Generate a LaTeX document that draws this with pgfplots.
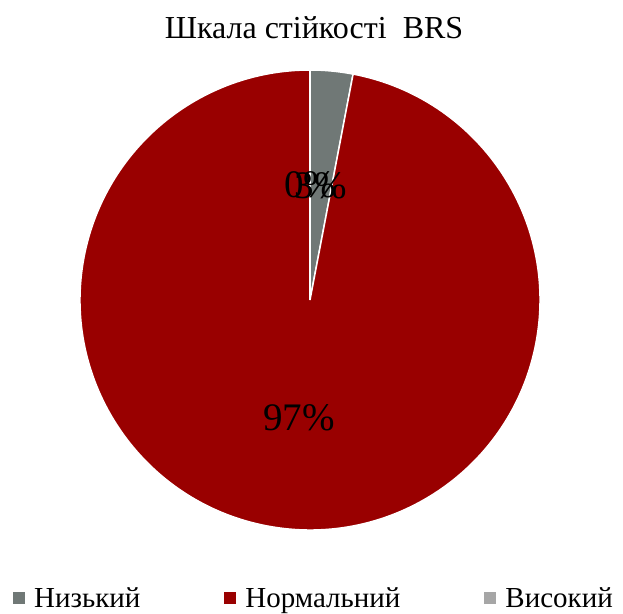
\documentclass[border=0pt]{standalone}
\usepackage{fontspec}
\setmainfont{Liberation Serif}
\usepackage{pgfplots}
\pgfplotsset{compat=1.18}
\usetikzlibrary{calc}
\definecolor{lowc}{RGB}{112,120,118}
\definecolor{normc}{RGB}{153,0,0}
\definecolor{highc}{RGB}{166,166,166}
% shares (percent)
\def\vLow{3}
\def\vNorm{97}
\def\vHigh{0}
\begin{document}
\begin{tikzpicture}
\useasboundingbox (0,0) rectangle (623bp,614bp);
\pgfmathsetmacro{\aA}{90}
\pgfmathsetmacro{\aB}{90-3.6*\vLow}
\pgfmathsetmacro{\aC}{\aB-3.6*\vNorm}
\pgfmathsetmacro{\aD}{\aC-3.6*\vHigh}
\pgfmathsetmacro{\mA}{(\aA+\aB)/2}
\pgfmathsetmacro{\mB}{(\aB+\aC)/2}
\pgfmathsetmacro{\mC}{(\aC+\aD)/2}
\begin{axis}[
  at={(0,0)}, anchor=south west,
  width=623bp, height=614bp, scale only axis,
  xmin=0, xmax=623, ymin=0, ymax=614,
  axis lines=none, clip=false,
  legend image code/.code={\fill[#1, draw=none] (0bp,-6bp) rectangle (12bp,6bp);},
  legend style={at={(axis cs:13,3)}, anchor=south west, draw=none, fill=none,
    inner sep=0pt, legend columns=3, font=\fontsize{29bp}{34bp}\selectfont,
    /tikz/every odd column/.append style={column sep=7bp},
    /tikz/every even column/.append style={column sep=82bp}},
  legend cell align=left,
]
\addlegendimage{fill=lowc, draw=none}
\addlegendentry{Низький}
\addlegendimage{fill=normc, draw=none}
\addlegendentry{Нормальний}
\addlegendimage{fill=highc, draw=none}
\addlegendentry{Високий}
\filldraw[fill=lowc, draw=white, line width=1.5bp] (axis cs:310,314) -- ++(\aA:230bp) arc[start angle=\aA, end angle=\aB, radius=230bp] -- cycle;
\filldraw[fill=normc, draw=white, line width=1.5bp] (axis cs:310,314) -- ++(\aB:230bp) arc[start angle=\aB, end angle=\aC, radius=230bp] -- cycle;
\draw[white, line width=1.5bp] (axis cs:310,314) -- ++(\aC:230bp);
\node[font=\fontsize{39bp}{44bp}\selectfont] at ($(axis cs:310,314)+(\mA:115bp)$) {3\%};
\node[font=\fontsize{39bp}{44bp}\selectfont] at ($(axis cs:310,314)+(\mC:115bp)$) {0\%};
\node[font=\fontsize{39bp}{44bp}\selectfont] at ($(axis cs:310,314)+(\mB:118bp)$) {97\%};
\node[anchor=base, font=\fontsize{32bp}{38bp}\selectfont] at (axis cs:314,575) {Шкала стійкості\ \ BRS};
\end{axis}
\end{tikzpicture}
\end{document}
